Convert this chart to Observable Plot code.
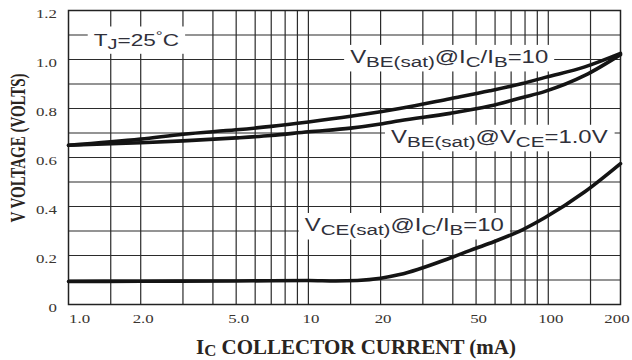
<!DOCTYPE html>
<html>
<head>
<meta charset="utf-8">
<script src="https://cdn.jsdelivr.net/npm/d3@7"></script>
<script src="https://cdn.jsdelivr.net/npm/@observablehq/plot@0.6"></script>
<style>
  html, body { margin: 0; padding: 0; background: #fff; }
</style>
</head>
<body>
<div id="chart"></div>
<script>
// VBE(sat) @ IC/IB = 10: collector current (mA) and voltage (V)
const vbeRatioCurrent = [1, 2, 3, 5, 7, 10, 15, 20, 24, 39, 57, 78, 97, 142, 200];
const vbeRatioVolts = [0.65, 0.675, 0.695, 0.713, 0.727, 0.745, 0.768, 0.787, 0.80, 0.84, 0.872, 0.902, 0.927, 0.97, 1.025];
// VBE(sat) @ VCE = 1.0 V
const vbeVceCurrent = [1, 2, 3, 5, 7, 10, 15, 20, 24, 39, 57, 78, 97, 142, 200];
const vbeVceVolts = [0.65, 0.66, 0.668, 0.68, 0.69, 0.705, 0.72, 0.737, 0.75, 0.78, 0.81, 0.845, 0.87, 0.935, 1.02];
// VCE(sat) @ IC/IB = 10
const vceCurrent = [1, 2, 5, 10, 13, 16, 20, 24, 39, 47, 57, 78, 97, 142, 200];
const vceVolts = [0.094, 0.095, 0.096, 0.098, 0.096, 0.098, 0.107, 0.122, 0.19, 0.22, 0.25, 0.305, 0.355, 0.46, 0.575];

// Axis ticks and labels
const xTicks = [1, 2, 5, 10, 20, 50, 100, 200];
const xTickLabels = ["1.0", "2.0", "5.0", "10", "20", "50", "100", "200"];
const yTicks = [0, 0.2, 0.4, 0.6, 0.8, 1.0, 1.2];
const yTickLabels = ["0", "0.2", "0.4", "0.6", "0.8", "1.0", "1.2"];

// Log-cycle grid
const xGrid = [1.5, 2, 3, 4, 5, 6, 7, 8, 9, 10, 15, 20, 30, 40, 50, 60, 70, 80, 90, 100, 150];
const yGrid = [0.1, 0.2, 0.3, 0.4, 0.5, 0.6, 0.7, 0.8, 0.9, 1.0, 1.1];

// Curve annotations: text runs ("n" normal, "s" subscript, "p" superscript)
const annoParts = [
  [["T", "n"], ["J", "s"], ["=25", "n"], ["°", "p"], ["C", "n"]],
  [["V", "n"], ["BE(sat)", "s"], ["@I", "n"], ["C", "s"], ["/I", "n"], ["B", "s"], ["=10", "n"]],
  [["V", "n"], ["BE(sat)", "s"], ["@V", "n"], ["CE", "s"], ["=1.0V", "n"]],
  [["V", "n"], ["CE(sat)", "s"], ["@I", "n"], ["C", "s"], ["/I", "n"], ["B", "s"], ["=10", "n"]]
];
const annoX = [1.28, 15, 22.2, 9.7];       // left edge, mA
const annoY = [1.078, 1.01, 0.684, 0.324]; // vertical centre, volts

const xTitleParts = [["I", "n"], ["C", "s"], [" COLLECTOR CURRENT (mA)", "n"]];
const yTitle = "V VOLTAGE (VOLTS)";

const rows = [
  ...vbeRatioCurrent.map((c, i) => ({ current: c, volts: vbeRatioVolts[i], series: "VBE(sat) IC/IB=10" })),
  ...vbeVceCurrent.map((c, i) => ({ current: c, volts: vbeVceVolts[i], series: "VBE(sat) VCE=1.0V" })),
  ...vceCurrent.map((c, i) => ({ current: c, volts: vceVolts[i], series: "VCE(sat) IC/IB=10" }))
];

const STRETCH = 1.33;   // horizontal widening of the lettering
const TICK_STRETCH = 1.35;

// Appends a <text> built from runs of normal / sub / superscript tspans
function richText(sel, parts, big, small, sup, subShift, supShift) {
  const t = sel.append("text");
  let off = 0;
  for (const [s, role] of parts) {
    const o = role === "s" ? subShift : role === "p" ? supShift : 0;
    t.append("tspan")
      .attr("font-size", role === "n" ? big : role === "s" ? small : sup)
      .attr("dy", o - off)
      .text(s);
    off = o;
  }
  return t;
}

const annotations = (index, scales) => {
  const { x, y } = scales;
  const g = d3.create("svg:g")
    .attr("font-family", "'Liberation Sans', Arial, sans-serif")
    .attr("text-anchor", "start")
    .attr("fill", "#30303a");
  annoParts.forEach((parts, i) => {
    const a = g.append("g")
      .attr("class", "anno")
      .attr("transform", `translate(${x(annoX[i])},${y(annoY[i]) + 6.5}) scale(${STRETCH},1)`);
    if (i === 0) richText(a, parts, 17, 15, 13, 3, -6);
    else richText(a, parts, 18, 15.5, 12, 4, -6);
  });
  return g.node();
};

// Tick labels placed through the x and y scales
const tickLabels = (index, scales, values, dims) => {
  const { x, y } = scales;
  const bottom = dims.height - dims.marginBottom;
  const left = dims.marginLeft;
  const g = d3.create("svg:g")
    .attr("font-family", "'Liberation Serif', 'Times New Roman', serif")
    .attr("font-size", 12.5)
    .attr("fill", "#3a3530");
  xTicks.forEach((v, i) => {
    const last = i === xTicks.length - 1;
    const anchor = i === 0 ? "start" : "middle";
    const dx = i === 0 ? 1 : last ? -3 : 3;
    g.append("text")
      .attr("transform", `translate(${x(v) + dx},${bottom + 19}) scale(${TICK_STRETCH},1)`)
      .attr("text-anchor", anchor)
      .text(xTickLabels[i]);
  });
  yTicks.forEach((v, i) => {
    g.append("text")
      .attr("transform", `translate(${left - 11},${y(v) + 8}) scale(${TICK_STRETCH},1)`)
      .attr("text-anchor", "end")
      .text(yTickLabels[i]);
  });
  return g.node();
};

const axisTitles = (index, scales, values, dims) => {
  const { marginTop, marginBottom, marginLeft, marginRight, width, height } = dims;
  const g = d3.create("svg:g")
    .attr("font-family", "'Liberation Serif', 'Times New Roman', serif")
    .attr("font-weight", "bold")
    .attr("fill", "#2a2420");
  const cx = (marginLeft + width - marginRight) / 2 + 12;
  const xt = g.append("g").attr("transform", `translate(${cx},${height - 6}) scale(1.05,1)`);
  richText(xt, xTitleParts, 20, 16, 12, 2, 0).attr("text-anchor", "middle");
  const cy = (marginTop + height - marginBottom) / 2 - 9;
  g.append("text")
    .attr("transform", `translate(25,${cy}) scale(${STRETCH},1) rotate(-90)`)
    .attr("text-anchor", "middle")
    .attr("font-size", 15)
    .text(yTitle);
  return g.node();
};

const plot = Plot.plot({
  width: 632,
  height: 360,
  marginTop: 10,
  marginRight: 12,
  marginBottom: 56,
  marginLeft: 68,
  style: { background: "#fff", fontFamily: "'Liberation Serif', 'Times New Roman', serif" },
  x: { type: "log", domain: [1, 200], label: null, axis: null },
  y: { domain: [0, 1.2], label: null, axis: null },
  marks: [
    Plot.ruleX(xGrid, { stroke: "#2b2b2b", strokeWidth: 1.2 }),
    Plot.ruleY(yGrid, { stroke: "#2b2b2b", strokeWidth: 1.2 }),
    Plot.frame({ stroke: "#222", strokeWidth: 1.5 }),
    annotations,
    Plot.line(rows, {
      x: "current", y: "volts", z: "series",
      stroke: "#141414", strokeWidth: 3.6, curve: "monotone-x"
    }),
    tickLabels,
    axisTitles
  ]
});

document.getElementById("chart").appendChild(plot);

// White boxes behind the curve annotations, cutting the grid
plot.querySelectorAll("g.anno").forEach(a => {
  const t = a.querySelector("text");
  const bb = t.getBBox();
  const padX = 6 / STRETCH;
  const r = document.createElementNS("http://www.w3.org/2000/svg", "rect");
  r.setAttribute("x", bb.x - padX);
  r.setAttribute("y", bb.y - 2);
  r.setAttribute("width", bb.width + 2 * padX);
  r.setAttribute("height", bb.height + 3);
  r.setAttribute("fill", "#fff");
  a.insertBefore(r, t);
});
</script>
</body>
</html>
